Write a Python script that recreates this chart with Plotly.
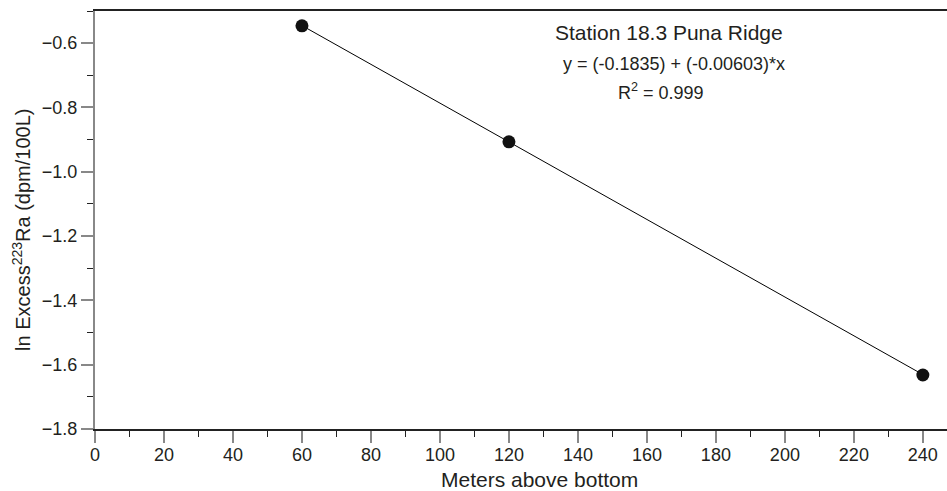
import plotly.graph_objects as go

meters = [60, 120, 240]
ln_excess = [-0.546, -0.907, -1.632]
intercept = -0.1835
slope = -0.00603
fit_x = [60, 240]
fit_y = [intercept + slope * v for v in fit_x]

FONT = "Liberation Sans, Arial, Helvetica, sans-serif"
TXT = "#231f20"

fig = go.Figure()
fig.add_trace(go.Scatter(x=fit_x, y=fit_y, mode="lines",
                         line=dict(color="black", width=1), showlegend=False))
fig.add_trace(go.Scatter(x=meters, y=ln_excess, mode="markers",
                         marker=dict(color="#111111", size=13), showlegend=False))

fig.update_layout(
    width=947, height=491,
    margin=dict(l=95, r=0, t=11, b=62),
    paper_bgcolor="white", plot_bgcolor="white",
    font=dict(family=FONT, color=TXT, size=18),
    xaxis=dict(range=[0, 247], dtick=20, tick0=0, ticks="outside", ticklen=12,
               tickcolor="#888888", tickwidth=2, showgrid=False, zeroline=False,
               showline=True, linecolor="#222222", linewidth=1.5, mirror=True,
               tickfont=dict(size=18, color=TXT), ticklabelstandoff=-3,
               minor=dict(dtick=10, ticks="outside", ticklen=6, tickcolor="#222222", tickwidth=1)),
    yaxis=dict(range=[-1.8, -0.5], dtick=0.2, tick0=0, ticks="outside", ticklen=12,
               tickcolor="#888888", tickwidth=1.5, showgrid=False, zeroline=False,
               showline=True, linecolor="#888888", linewidth=2, tickformat=".1f",
               tickfont=dict(size=18, color=TXT),
               minor=dict(dtick=0.1, ticks="outside", ticklen=6, tickcolor="#222222", tickwidth=1)),
)

# axis titles
fig.add_annotation(x=0.522, y=-0.12, xref="paper", yref="paper", text="Meters above bottom",
                   showarrow=False, xanchor="center", yanchor="middle",
                   font=dict(size=21, color=TXT))
fig.add_annotation(x=-0.087, y=0.476, xref="paper", yref="paper",
                   text="ln Excess<sup>223</sup>Ra (dpm/100L)", textangle=-90,
                   showarrow=False, xanchor="center", yanchor="middle",
                   font=dict(size=20, color=TXT))

fig.add_annotation(x=166.4, y=-0.568, xref="x", yref="y", text="Station 18.3 Puna Ridge",
                   showarrow=False, font=dict(size=21, color=TXT))
fig.add_annotation(x=167.9, y=-0.664, xref="x", yref="y", text="y = (-0.1835) + (-0.00603)*x",
                   showarrow=False, font=dict(size=18, color=TXT))
fig.add_annotation(x=164.1, y=-0.751, xref="x", yref="y", text="R<sup>2</sup> = 0.999",
                   showarrow=False, font=dict(size=18, color=TXT))

fig.write_html("out.html")
